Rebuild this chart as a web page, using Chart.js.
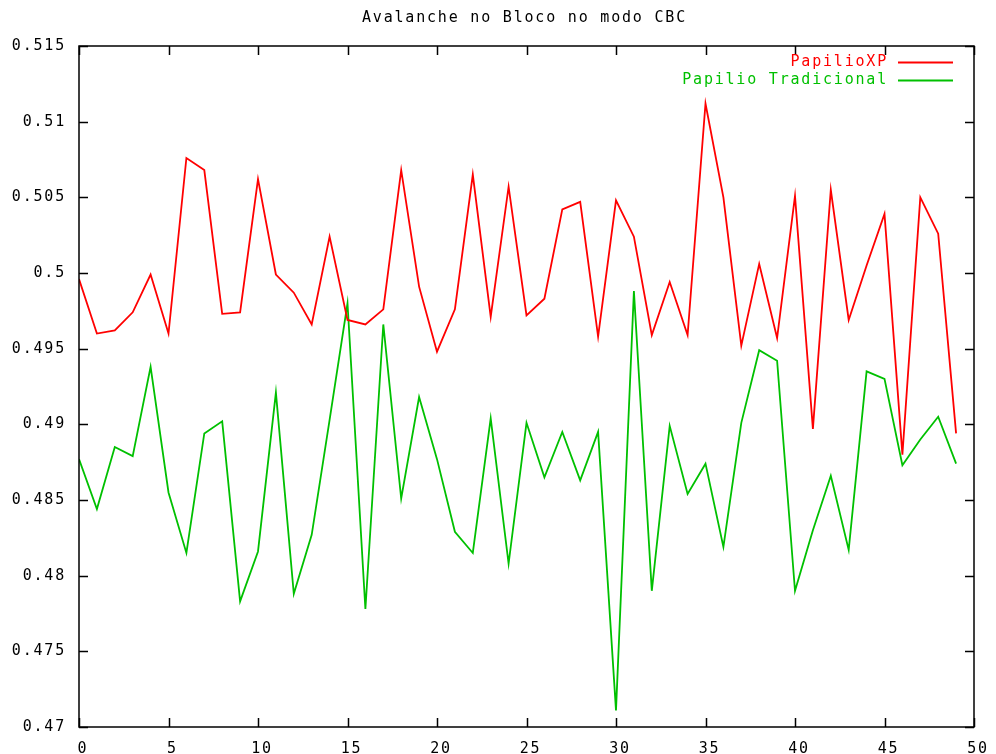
<!DOCTYPE html>
<html>
<head>
<meta charset="utf-8">
<script src="https://cdn.jsdelivr.net/npm/chart.js@4"></script>
<style>
  html, body { margin: 0; padding: 0; background: #fff; }
  #wrap { width: 996px; height: 754px; }
</style>
</head>
<body>
<div id="wrap"><canvas id="myChart"></canvas></div>
<script>
const chartTitle = "Avalanche no Bloco no modo CBC";
const runs = [0, 1, 2, 3, 4, 5, 6, 7, 8, 9, 10, 11, 12, 13, 14, 15, 16, 17, 18, 19,
  20, 21, 22, 23, 24, 25, 26, 27, 28, 29, 30, 31, 32, 33, 34, 35, 36, 37, 38, 39,
  40, 41, 42, 43, 44, 45, 46, 47, 48, 49];
const papilioXP = [0.4996, 0.4960, 0.4962, 0.4974, 0.4999, 0.4960, 0.5076, 0.5068, 0.4973, 0.4974,
  0.5062, 0.4999, 0.4987, 0.4966, 0.5024, 0.4969, 0.4966, 0.4976, 0.5068, 0.4991,
  0.4948, 0.4976, 0.5065, 0.4971, 0.5057, 0.4972, 0.4983, 0.5042, 0.5047, 0.4958,
  0.5048, 0.5024, 0.4959, 0.4994, 0.4959, 0.5112, 0.5050, 0.4952, 0.5006, 0.4957,
  0.5051, 0.4897, 0.5055, 0.4969, 0.5005, 0.5039, 0.4880, 0.5050, 0.5026, 0.4894];
const papilioTrad = [0.4877, 0.4844, 0.4885, 0.4879, 0.4938, 0.4855, 0.4815, 0.4894, 0.4902, 0.4783,
  0.4816, 0.4921, 0.4788, 0.4827, 0.4903, 0.4980, 0.4778, 0.4966, 0.4851, 0.4918,
  0.4877, 0.4829, 0.4815, 0.4904, 0.4808, 0.4901, 0.4865, 0.4895, 0.4863, 0.4895,
  0.4711, 0.4988, 0.4790, 0.4899, 0.4854, 0.4874, 0.4819, 0.4901, 0.4949, 0.4942,
  0.4790, 0.4830, 0.4866, 0.4817, 0.4935, 0.4930, 0.4873, 0.4890, 0.4905, 0.4874];

const FONT = { family: "'DejaVu Sans Mono', monospace", size: 15 };
const SPACING = "1.8px";

// gnuplot style: inward ticks on all four sides, custom legend and title
const gnuplotLook = {
  id: "gnuplotLook",
  beforeDraw(chart) {
    chart.ctx.letterSpacing = SPACING;
  },
  afterDraw(chart) {
    const ctx = chart.ctx;
    const a = chart.chartArea;
    const xs = chart.scales.x, ys = chart.scales.y;
    const tl = 9;
    ctx.save();
    ctx.strokeStyle = "#000";
    ctx.lineWidth = 1.5;
    ctx.beginPath();
    xs.ticks.forEach(t => {
      const px = Math.round(xs.getPixelForValue(t.value)) + 0.5;
      ctx.moveTo(px, a.bottom); ctx.lineTo(px, a.bottom - tl);
      ctx.moveTo(px, a.top); ctx.lineTo(px, a.top + tl);
    });
    ys.ticks.forEach(t => {
      const py = Math.round(ys.getPixelForValue(t.value)) + 0.5;
      ctx.moveTo(a.left, py); ctx.lineTo(a.left + tl, py);
      ctx.moveTo(a.right, py); ctx.lineTo(a.right - tl, py);
    });
    ctx.stroke();
    ctx.strokeRect(a.left, a.top, a.right - a.left, a.bottom - a.top);

    ctx.font = FONT.size + "px " + FONT.family;
    ctx.letterSpacing = SPACING;
    ctx.textBaseline = "middle";
    // title
    ctx.fillStyle = "#000";
    ctx.textAlign = "center";
    ctx.fillText(chartTitle, (a.left + a.right) / 2 - 2, 18);
    // legend
    ctx.textAlign = "right";
    chart.data.datasets.forEach((ds, i) => {
      const y = 62 + i * 18;
      ctx.fillStyle = ds.borderColor;
      ctx.fillText(ds.label, a.right - 86, y);
      ctx.strokeStyle = ds.borderColor;
      ctx.lineWidth = 1.8;
      ctx.beginPath();
      ctx.moveTo(a.right - 76, y + 0.5);
      ctx.lineTo(a.right - 21, y + 0.5);
      ctx.stroke();
    });
    ctx.restore();
  }
};

const ctx = document.getElementById("myChart");

new Chart(ctx, {
  type: "line",
  data: {
    datasets: [
      {
        label: "PapilioXP",
        data: runs.map((r, i) => ({ x: r, y: papilioXP[i] })),
        borderColor: "rgb(255,0,0)",
        borderWidth: 1.8,
        pointRadius: 0,
        tension: 0,
      },
      {
        label: "Papilio Tradicional",
        data: runs.map((r, i) => ({ x: r, y: papilioTrad[i] })),
        borderColor: "rgb(0,192,0)",
        borderWidth: 1.8,
        pointRadius: 0,
        tension: 0,
      },
    ],
  },
  options: {
    responsive: true,
    maintainAspectRatio: false,
    animation: false,
    layout: { padding: { top: 46, right: 22, left: 0, bottom: 0 } },
    plugins: {
      legend: { display: false },
      title: { display: false },
      tooltip: { enabled: false },
    },
    scales: {
      x: {
        type: "linear",
        min: 0,
        max: 50,
        grid: { display: false },
        border: { display: false },
        ticks: {
          stepSize: 5,
          color: "#000",
          font: FONT,
          padding: 5,
          labelOffset: 4,
          maxRotation: 0,
        },
        afterFit(scale) { scale.height = 27; },
      },
      y: {
        min: 0.47,
        max: 0.515,
        grid: { display: false },
        border: { display: false },
        ticks: {
          stepSize: 0.005,
          color: "#000",
          font: FONT,
          padding: 5,
          callback: (v) => String(Math.round(v * 1000) / 1000),
        },
        afterFit(scale) { scale.width = 79; },
      },
    },
  },
  plugins: [gnuplotLook],
});
</script>
</body>
</html>
